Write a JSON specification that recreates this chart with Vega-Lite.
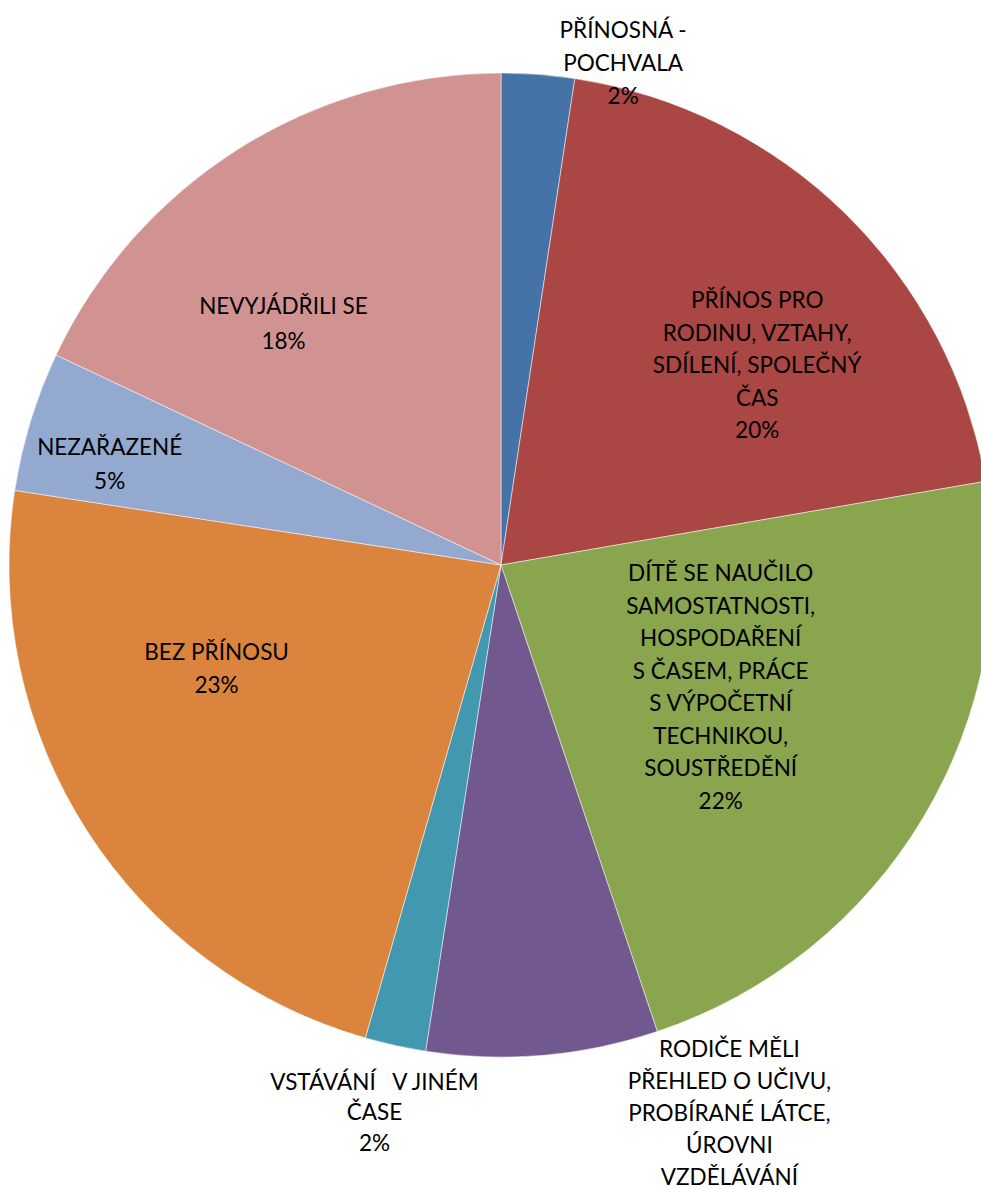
{
  "$schema": "https://vega.github.io/schema/vega-lite/v6.json",
  "width": 1002,
  "height": 1130,
  "autosize": "none",
  "padding": {"left": 0, "top": 0, "right": -21, "bottom": 59},
  "background": "#ffffff",
  "config": {"view": {"stroke": null}, "text": {"font": "Lato", "fontSize": 22.5, "color": "#000000", "align": "center", "baseline": "middle", "lineBreak": "\n"}},
  "data": {
    "values": [
      {"poradi": 1, "kategorie": "PŘÍNOSNÁ - POCHVALA", "podil": 2.4, "popisek": "PŘÍNOSNÁ -\nPOCHVALA\n2%"},
      {"poradi": 2, "kategorie": "PŘÍNOS PRO RODINU, VZTAHY, SDÍLENÍ, SPOLEČNÝ ČAS", "podil": 19.9, "popisek": "PŘÍNOS PRO\nRODINU, VZTAHY,\nSDÍLENÍ, SPOLEČNÝ\nČAS\n20%"},
      {"poradi": 3, "kategorie": "DÍTĚ SE NAUČILO SAMOSTATNOSTI, HOSPODAŘENÍ S ČASEM, PRÁCE S VÝPOČETNÍ TECHNIKOU, SOUSTŘEDĚNÍ", "podil": 22.6, "popisek": "DÍTĚ SE NAUČILO\nSAMOSTATNOSTI,\nHOSPODAŘENÍ\nS ČASEM, PRÁCE\nS VÝPOČETNÍ\nTECHNIKOU,\nSOUSTŘEDĚNÍ\n22%"},
      {"poradi": 4, "kategorie": "RODIČE MĚLI PŘEHLED O UČIVU, PROBÍRANÉ LÁTCE, ÚROVNI VZDĚLÁVÁNÍ", "podil": 7.6, "popisek": "RODIČE MĚLI\nPŘEHLED O UČIVU,\nPROBÍRANÉ LÁTCE,\nÚROVNI\nVZDĚLÁVÁNÍ"},
      {"poradi": 5, "kategorie": "VSTÁVÁNÍ V JINÉM ČASE", "podil": 2.0, "popisek": "VSTÁVÁNÍ\u00a0\u00a0 V JINÉM\nČASE\n2%"},
      {"poradi": 6, "kategorie": "BEZ PŘÍNOSU", "podil": 23.0, "popisek": "BEZ PŘÍNOSU\n23%"},
      {"poradi": 7, "kategorie": "NEZAŘAZENÉ", "podil": 4.6, "popisek": "NEZAŘAZENÉ\n5%"},
      {"poradi": 8, "kategorie": "NEVYJÁDŘILI SE", "podil": 18.0, "popisek": "NEVYJÁDŘILI SE\n18%"}
    ]
  },
  "encoding": {
    "theta": {"field": "podil", "type": "quantitative", "stack": true},
    "order": {"field": "poradi", "type": "quantitative"}
  },
  "layer": [
    {
      "mark": {"type": "arc", "outerRadius": 492, "stroke": "#ffffff", "strokeWidth": 0.5},
      "encoding": {
        "color": {
          "field": "poradi",
          "type": "nominal",
          "scale": {
            "domain": [1, 2, 3, 4, 5, 6, 7, 8],
            "range": ["#4572A7", "#AA4643", "#89A54E", "#71588F", "#4198AF", "#DB843D", "#93A9CF", "#D19392"]
          },
          "legend": null
        }
      }
    },
    {
      "mark": {"type": "text", "radius": 507, "dx": 84, "dy": -28, "lineHeight": 33},
      "encoding": {"text": {"condition": {"test": "datum.poradi == 1", "field": "popisek"}, "value": ""}}
    },
    {
      "mark": {"type": "text", "radius": 326, "dx": 28, "dy": -31, "lineHeight": 32.5},
      "encoding": {"text": {"condition": {"test": "datum.poradi == 2", "field": "popisek"}, "value": ""}}
    },
    {
      "mark": {"type": "text", "radius": 250, "dx": 5, "dy": -119, "lineHeight": 32.5},
      "encoding": {"text": {"condition": {"test": "datum.poradi == 3", "field": "popisek"}, "value": ""}}
    },
    {
      "mark": {"type": "text", "radius": 607, "dx": 177, "dy": -120, "lineHeight": 32},
      "encoding": {"text": {"condition": {"test": "datum.poradi == 4", "field": "popisek"}, "value": ""}}
    },
    {
      "mark": {"type": "text", "radius": 561, "dx": -6, "dy": -30, "lineHeight": 30.5},
      "encoding": {"text": {"condition": {"test": "datum.poradi == 5", "field": "popisek"}, "value": ""}}
    },
    {
      "mark": {"type": "text", "radius": 301, "dx": -31, "dy": -74, "lineHeight": 33},
      "encoding": {"text": {"condition": {"test": "datum.poradi == 6", "field": "popisek"}, "value": ""}}
    },
    {
      "mark": {"type": "text", "radius": 404, "dx": -5, "dy": 1, "lineHeight": 34},
      "encoding": {"text": {"condition": {"test": "datum.poradi == 7", "field": "popisek"}, "value": ""}}
    },
    {
      "mark": {"type": "text", "radius": 326, "dx": -43, "dy": 17, "lineHeight": 35},
      "encoding": {"text": {"condition": {"test": "datum.poradi == 8", "field": "popisek"}, "value": ""}}
    }
  ]
}
